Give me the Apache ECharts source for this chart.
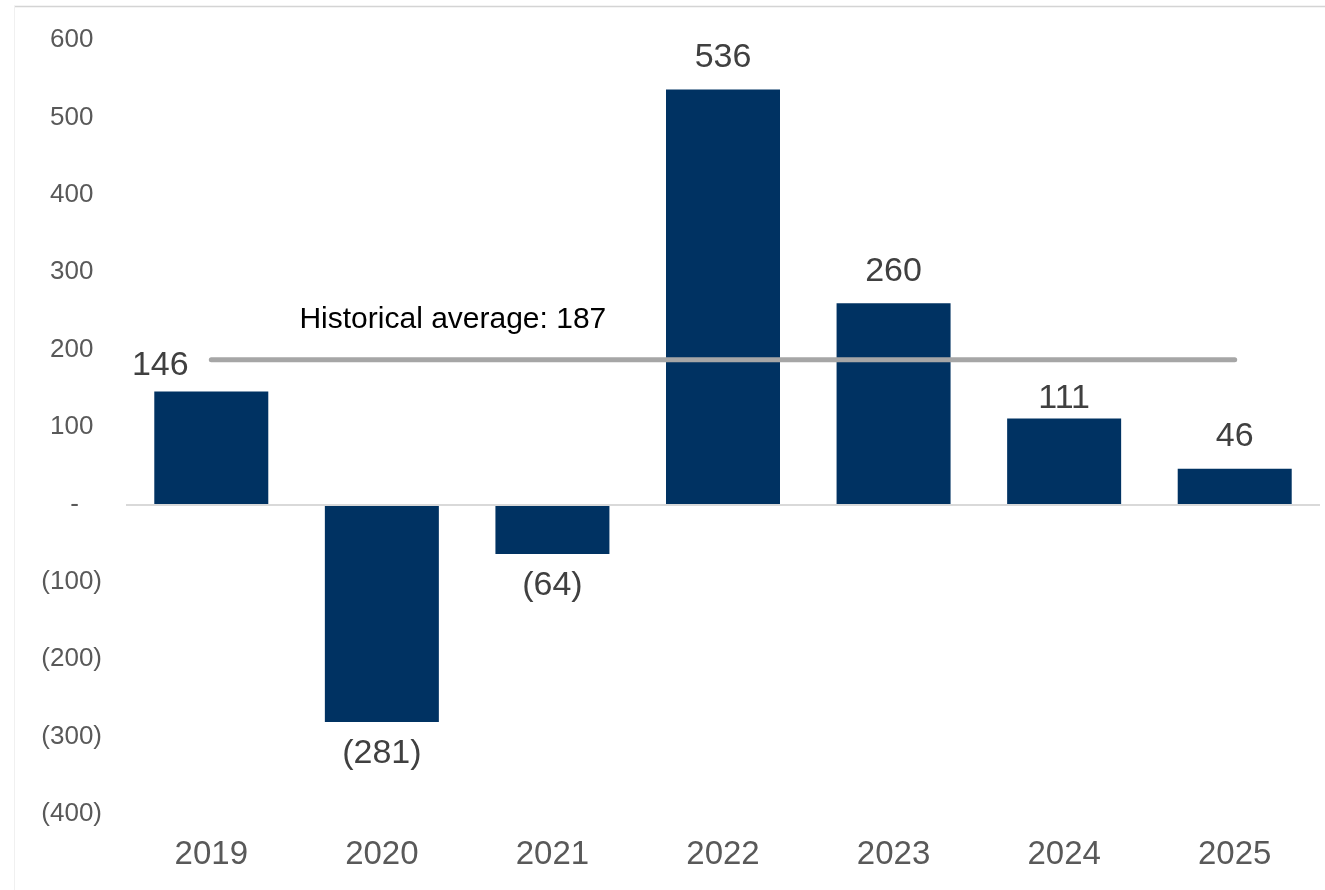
<!DOCTYPE html>
<html>
<head>
<meta charset="utf-8">
<script src="https://cdn.jsdelivr.net/npm/echarts@6/dist/echarts.min.js"></script>
<style>
html,body{margin:0;padding:0;background:#fff;}
#chart{width:1325px;height:890px;}
</style>
</head>
<body>
<div id="chart"></div>
<script>
const categories = ['2019','2020','2021','2022','2023','2024','2025'];
const values = [146, -281, -64, 536, 260, 111, 46];
const historicalAverage = 187;
const averageLabel = 'Historical average: 187';
const yTicks = { min: -400, max: 600, interval: 100 };

const FONT = '"Liberation Sans", Arial, sans-serif';
const fmt = v => v < 0 ? '(' + Math.abs(v) + ')' : String(v);

const chart = echarts.init(document.getElementById('chart'));

const barData = values.map((v, i) => {
  const item = { value: v };
  if (i === 0) item.label = { offset: [-51, 6] };
  if (i === 5) item.label = { offset: [0, 12] };
  return item;
});

const avgData = categories.map(() => historicalAverage);

chart.setOption({
  animation: false,
  backgroundColor: '#fff',
  graphic: [
    { type: 'line', shape: { x1: 14, y1: 6.5, x2: 1325, y2: 6.5 }, style: { stroke: '#d4d4d4', lineWidth: 1.5 }, silent: true },
    { type: 'line', shape: { x1: 14.5, y1: 6, x2: 14.5, y2: 890 }, style: { stroke: '#f0f0f0', lineWidth: 1 }, silent: true }
  ],
  grid: { left: 126, right: 5, top: 40, bottom: 76 },
  xAxis: {
    type: 'category',
    data: categories,
    axisLine: { show: false },
    axisTick: { show: false },
    axisLabel: { color: '#595959', fontSize: 33, fontFamily: FONT, margin: 24 }
  },
  yAxis: {
    type: 'value',
    min: yTicks.min, max: yTicks.max, interval: yTicks.interval,
    splitLine: { show: false },
    axisLine: { show: false },
    axisTick: { show: false },
    axisLabel: {
      color: '#595959', fontSize: 26, fontFamily: FONT, margin: 24,
      formatter: v => v === 0 ? '-{h|0)}' : (v < 0 ? fmt(v) : v + '{h|)}'),
      rich: { h: { color: 'rgba(0,0,0,0)', fontSize: 26, fontFamily: FONT } }
    }
  },
  series: [
    {
      type: 'bar',
      data: barData,
      barWidth: 114,
      itemStyle: { color: '#003262' },
      label: {
        show: true, position: 'outside', distance: 15,
        color: '#404040', fontSize: 34, fontFamily: FONT,
        formatter: p => fmt(p.value)
      },
      markLine: {
        silent: true, symbol: 'none',
        label: { show: false },
        lineStyle: { color: '#d9d9d9', width: 2, type: 'solid' },
        data: [{ yAxis: 0 }]
      },
      z: 2
    },
    {
      type: 'line',
      data: avgData,
      symbol: 'none',
      lineStyle: { color: '#a6a6a6', width: 5, cap: 'round' },
      markPoint: {
        silent: true,
        symbol: 'circle',
        symbolSize: 0,
        itemStyle: { color: 'rgba(0,0,0,0)' },
        label: {
          show: true, position: 'top', distance: 25, offset: [71, 0],
          formatter: averageLabel, color: '#000', fontSize: 30, fontFamily: FONT
        },
        data: [{ coord: [1, historicalAverage] }]
      },
      z: 3
    }
  ]
});
</script>
</body>
</html>
